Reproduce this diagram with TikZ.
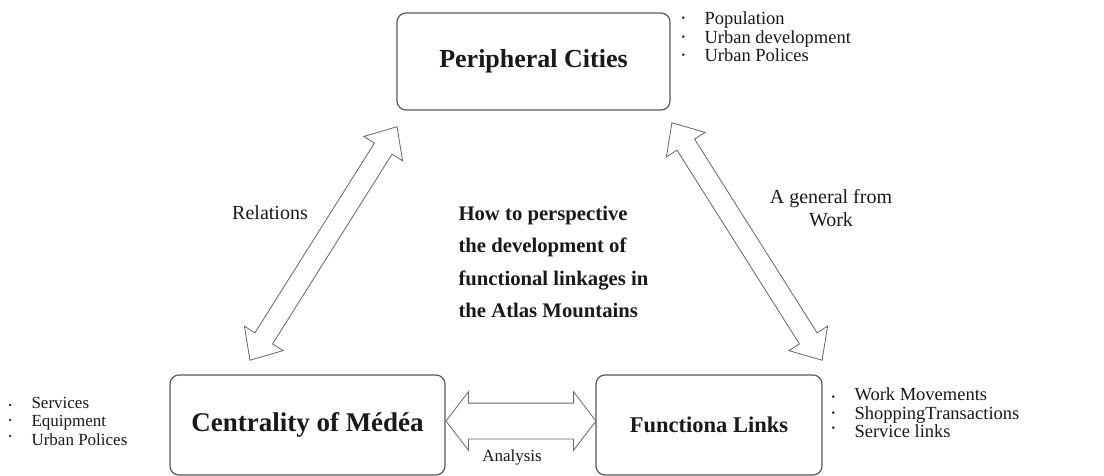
\documentclass[tikz,border=0pt]{standalone}
\usepackage{fontspec}
\setmainfont{Liberation Serif}
\usepackage{graphicx}
\usetikzlibrary{positioning,calc,shapes.arrows}
% bullet item, optional raise of the dot
\newcommand{\itm}[2][3pt]{\makebox[23pt][l]{\raisebox{#1}{\scalebox{0.55}{\textbullet}}}#2}

\begin{document}
\begin{tikzpicture}[
    x=1pt, y=-1pt,
    box/.style={draw=black!65, line width=1.2pt, rounded corners=9pt, fill=white,
        font=\fontsize{26}{30}\selectfont\bfseries, text=black!90},
    dblarrow/.style={draw=black!60, line width=0.8pt, fill=white, shape=double arrow,
        inner xsep=0pt, inner ysep=10pt, double arrow head extend=12.5pt,
        double arrow tip angle=83},
    lbl/.style={font=\fontsize{20}{23}\selectfont, text=black!90},
    items/.style={font=\fontsize{18.5}{18.5}\selectfont, align=left, anchor=west, text=black!90},
]
\useasboundingbox (0,0) rectangle (1104,476);

% Boxes
\node[box, minimum width=273pt, minimum height=97pt] (peri) at (533.5,61.5) {Peripheral Cities};
\node[box, minimum width=275pt, minimum height=100pt, font=\fontsize{27}{30}\selectfont\bfseries] (cent) at (307.5,425) {Centrality of Médéa};
\node[box, minimum width=226pt, minimum height=100pt, font=\fontsize{22.5}{26}\selectfont\bfseries] (func) at (709,425) {Functiona Links};

% Item lists
\node[items] (periitems) at (678,37) {\itm{Population}\\ \itm{Urban development}\\ \itm{Urban Polices}};
\node[items, font=\fontsize{17}{18.5}\selectfont] (centitems) at (5,421) {\itm[0pt]{Services}\\ \itm{Equipment}\\ \itm[6pt]{Urban Polices}};
\node[items] (funcitems) at (828,413) {\itm[0pt]{Work Movements}\\ \itm{ShoppingTransactions}\\ \itm[6pt]{Service links}};

% Double arrows
\node[dblarrow, minimum height=276pt, rotate=57.8] (relarrow) at (323.5,243.5) {};
\node[dblarrow, minimum height=281pt, rotate=-57.7] (workarrow) at (747,241.5) {};
\node[dblarrow, minimum height=150pt, inner ysep=17.5pt, double arrow head extend=11.5pt,
    double arrow tip angle=105] (anaarrow) at (521,421) {};

% Labels
\node[lbl] (rel) at (270,213) {Relations};
\node[lbl, align=center] (gen) at (831,208) {A general from\\Work};
\node[lbl, font=\fontsize{17}{20}\selectfont] (ana) at (512,457) {Analysis};

% Question
\node[font=\fontsize{20.7}{32.3}\selectfont\bfseries, align=left, anchor=west, text=black!90] (quest) at (455,262)
    {How to perspective\\the development of\\functional linkages in\\the Atlas Mountains};
\end{tikzpicture}
\end{document}
